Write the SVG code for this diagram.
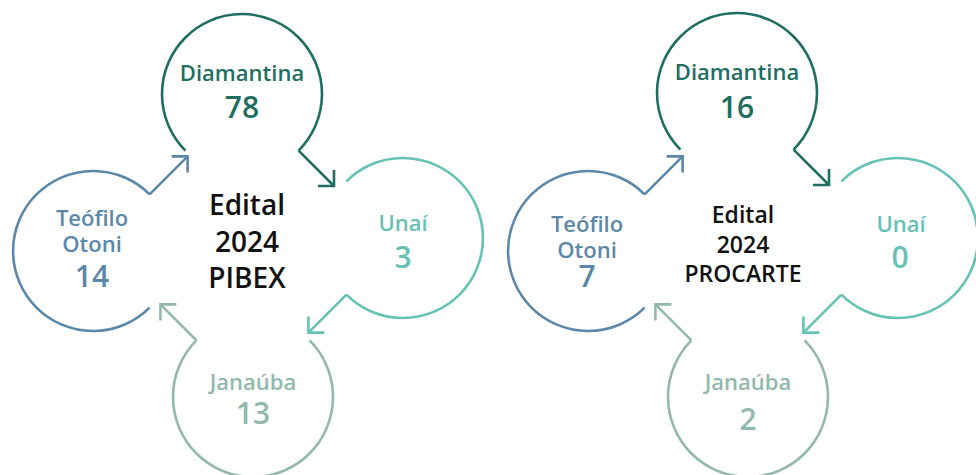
<svg xmlns="http://www.w3.org/2000/svg" width="976" height="475" viewBox="0 0 976 475">
<style>
.ring{fill:none;stroke-width:2.6}
.lbl{font-family:"Open Sans","Noto Sans",sans-serif;font-weight:600;font-size:22px;text-anchor:middle}
.num{font-family:"Open Sans","Noto Sans",sans-serif;font-weight:600;font-size:30px;text-anchor:middle}
.ctr{font-family:"Open Sans","Noto Sans",sans-serif;font-weight:600;fill:#111;text-anchor:middle}
.s-dia{stroke:#1f6e62}.f-dia{fill:#1f6e62}
.s-teo{stroke:#5b88a9}.f-teo{fill:#5b88a9}
.s-una{stroke:#66c2b5}.f-una{fill:#66c2b5}
.s-jan{stroke:#93b8ad}.f-jan{fill:#93b8ad}
.conn{fill:none;stroke-width:2.6}
</style>
<defs>
<marker id="mDia" markerUnits="userSpaceOnUse" markerWidth="30" markerHeight="30" refX="15" refY="15" orient="auto" viewBox="0 0 30 30"><path d="M3.7,3.7 L15,15 L3.7,26.3" fill="none" stroke="#1f6e62" stroke-width="2.6"/></marker>
<marker id="mTeo" markerUnits="userSpaceOnUse" markerWidth="30" markerHeight="30" refX="15" refY="15" orient="auto" viewBox="0 0 30 30"><path d="M3.7,3.7 L15,15 L3.7,26.3" fill="none" stroke="#5b88a9" stroke-width="2.6"/></marker>
<marker id="mUna" markerUnits="userSpaceOnUse" markerWidth="30" markerHeight="30" refX="15" refY="15" orient="auto" viewBox="0 0 30 30"><path d="M3.7,3.7 L15,15 L3.7,26.3" fill="none" stroke="#66c2b5" stroke-width="2.6"/></marker>
<marker id="mJan" markerUnits="userSpaceOnUse" markerWidth="30" markerHeight="30" refX="15" refY="15" orient="auto" viewBox="0 0 30 30"><path d="M3.7,3.7 L15,15 L3.7,26.3" fill="none" stroke="#93b8ad" stroke-width="2.6"/></marker>
</defs>
<rect width="976" height="475" fill="#fff"/>

<!-- Left: PIBEX -->
<g id="pibex-center"><text class="ctr" font-size="28" x="247" y="215">Edital</text><text class="ctr" font-size="28" x="247" y="252">2024</text><text class="ctr" font-size="28" x="247" y="288">PIBEX</text></g>
<g id="pibex-diamantina"><path class="ring s-dia" d="M185.4,150.6 A80,80 0 1 1 298.6,150.6"/><text class="lbl f-dia" x="242" y="81">Diamantina</text><text class="num f-dia" x="242" y="118">78</text></g>
<g id="pibex-teofilo"><path class="ring s-teo" d="M149.6,307.6 A80,80 0 1 1 149.6,194.4"/><text class="lbl f-teo" x="92" y="226">Teófilo</text><text class="lbl f-teo" x="92" y="252">Otoni</text><text class="num f-teo" x="92" y="287">14</text></g>
<g id="pibex-unai"><path class="ring s-una" d="M346.4,181.4 A80,80 0 1 1 346.4,294.6"/><text class="lbl f-una" x="403" y="231">Unaí</text><text class="num f-una" x="403" y="268">3</text></g>
<g id="pibex-janauba"><path class="ring s-jan" d="M309.6,340.4 A80,80 0 1 1 196.4,340.4"/><text class="lbl f-jan" x="253" y="390">Janaúba</text><text class="num f-jan" x="253" y="424">13</text></g>

<!-- Right: PROCARTE -->
<g id="procarte-center"><text class="ctr" font-size="23" x="743" y="223">Edital</text><text class="ctr" font-size="23" x="743" y="253">2024</text><text class="ctr" font-size="23" x="743" y="282">PROCARTE</text></g>
<g id="procarte-diamantina"><path class="ring s-dia" d="M680.4,149.6 A80,80 0 1 1 793.6,149.6"/><text class="lbl f-dia" x="737" y="80">Diamantina</text><text class="num f-dia" x="737" y="118">16</text></g>
<g id="procarte-teofilo"><path class="ring s-teo" d="M644.6,307.6 A80,80 0 1 1 644.6,194.4"/><text class="lbl f-teo" x="587" y="232">Teófilo</text><text class="lbl f-teo" x="587" y="258">Otoni</text><text class="num f-teo" x="587" y="287">7</text></g>
<g id="procarte-unai"><path class="ring s-una" d="M841.4,181.4 A80,80 0 1 1 841.4,294.6"/><text class="lbl f-una" x="901" y="232">Unaí</text><text class="num f-una" x="900" y="268">0</text></g>
<g id="procarte-janauba"><path class="ring s-jan" d="M804.6,340.4 A80,80 0 1 1 691.4,340.4"/><text class="lbl f-jan" x="748" y="390">Janaúba</text><text class="num f-jan" x="748" y="430">2</text></g>

<g id="connectors">
<line class="conn s-teo" x1="149.6" y1="194.4" x2="187.6" y2="156.4" marker-end="url(#mTeo)"/>
<line class="conn s-dia" x1="298.6" y1="150.6" x2="334" y2="186" marker-end="url(#mDia)"/>
<line class="conn s-una" x1="346.4" y1="294.6" x2="308.4" y2="332.6" marker-end="url(#mUna)"/>
<line class="conn s-jan" x1="196.4" y1="340.4" x2="160.4" y2="304.4" marker-end="url(#mJan)"/>
<line class="conn s-teo" x1="644.6" y1="194.4" x2="682.6" y2="156.4" marker-end="url(#mTeo)"/>
<line class="conn s-dia" x1="793.6" y1="149.6" x2="829" y2="185" marker-end="url(#mDia)"/>
<line class="conn s-una" x1="841.4" y1="294.6" x2="803.4" y2="332.6" marker-end="url(#mUna)"/>
<line class="conn s-jan" x1="691.4" y1="340.4" x2="655.4" y2="304.4" marker-end="url(#mJan)"/>
</g>
</svg>
